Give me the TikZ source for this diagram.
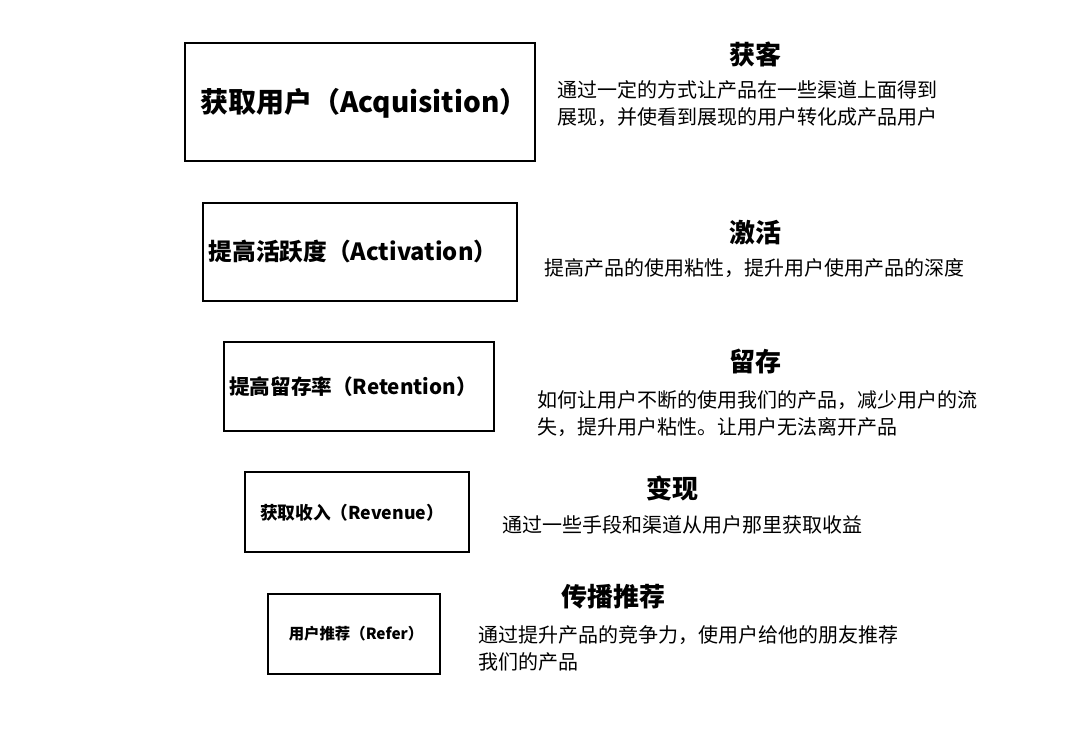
\documentclass[tikz,border=0pt]{standalone}
\usepackage{fontspec}
\setmainfont{Noto Sans CJK SC}
\begin{document}
\begin{tikzpicture}[x=1pt,y=-1pt]
\tikzset{stagebox/.style={draw,line width=1.3pt,inner sep=0pt},
  heading/.style={font=\fontsize{26}{30}\selectfont\bfseries},
  desc/.style={anchor=west,align=left,inner sep=0pt,font=\fontsize{20}{27}\selectfont}}
\useasboundingbox (0,0) rectangle (1080,729);
\draw [stagebox] (185,43) rectangle (535,161);
\node [font=\fontsize{28}{32}\selectfont\bfseries] (acq) at (364,103) {获取用户（Acquisition）};
\draw [stagebox] (203,203) rectangle (517,301);
\node [font=\fontsize{23.7}{28}\selectfont\bfseries] (act) at (353,252) {提高活跃度（Activation）};
\draw [stagebox] (224,342) rectangle (494,431);
\node [font=\fontsize{20.6}{24}\selectfont\bfseries] (ret) at (353,387) {提高留存率（Retention）};
\draw [stagebox] (245,472) rectangle (469,552);
\node [font=\fontsize{17.7}{21}\selectfont\bfseries] (rev) at (352,513) {获取收入（Revenue）};
\draw [stagebox] (268,594) rectangle (440,674);
\node [font=\fontsize{15.4}{18}\selectfont\bfseries] (ref) at (356,634) {用户推荐（Refer）};
% headings and texts
\node [heading] (h1) at (755,54) {获客};
\node [desc] (d1) at (557,104) {通过一定的方式让产品在一些渠道上面得到\\展现，并使看到展现的用户转化成产品用户};
\node [heading] (h2) at (755,233) {激活};
\node [desc] (d2) at (544,268) {提高产品的使用粘性，提升用户使用产品的深度};
\node [heading] (h3) at (755,362) {留存};
\node [desc] (d3) at (537,414) {如何让用户不断的使用我们的产品，减少用户的流\\失，提升用户粘性。让用户无法离开产品};
\node [heading] (h4) at (672,488) {变现};
\node [desc] (d4) at (502,525) {通过一些手段和渠道从用户那里获取收益};
\node [heading] (h5) at (613,597) {传播推荐};
\node [desc] (d5) at (478,648) {通过提升产品的竞争力，使用户给他的朋友推荐\\我们的产品};
\end{tikzpicture}
\end{document}
